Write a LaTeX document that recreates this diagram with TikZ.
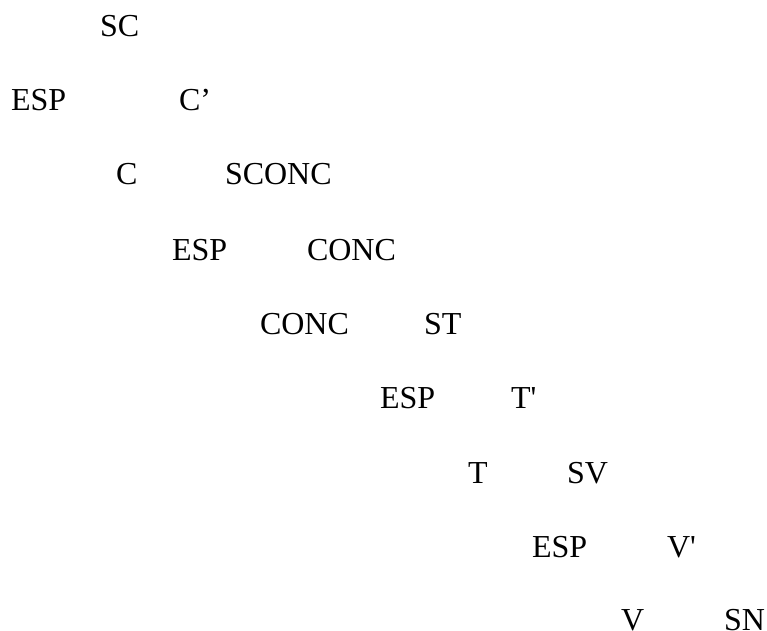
\documentclass[tikz,border=0pt]{standalone}
\usepackage{fontspec}
\setmainfont{Liberation Serif}
\begin{document}
\begin{tikzpicture}[x=1bp,y=-1bp,
  lbl/.style={anchor=base west,inner sep=0pt,outer sep=0pt,font=\fontsize{32bp}{38bp}\selectfont}]
\useasboundingbox (0,0) rectangle (767,631);
\node[lbl] (sc) at (100,37) {SC};
\node[lbl] (esp1) at (11,111) {ESP};
\node[lbl] (cp) at (179,111) {C’};
\node[lbl] (c) at (116,185) {C};
\node[lbl] (sconc) at (225,185) {SCONC};
\node[lbl] (esp2) at (172,260) {ESP};
\node[lbl] (conc1) at (307,260) {CONC};
\node[lbl] (conc2) at (260,334) {CONC};
\node[lbl] (st) at (424,334) {ST};
\node[lbl] (esp3) at (380,408) {ESP};
\node[lbl] (tp) at (511,408) {T\textquotesingle};
\node[lbl] (t) at (468,483) {T};
\node[lbl] (sv) at (567,483) {SV};
\node[lbl] (esp4) at (532,557) {ESP};
\node[lbl] (vp) at (667,557) {V\textquotesingle};
\node[lbl] (v) at (621,630) {V};
\node[lbl] (sn) at (724,630) {SN};
\end{tikzpicture}
\end{document}
